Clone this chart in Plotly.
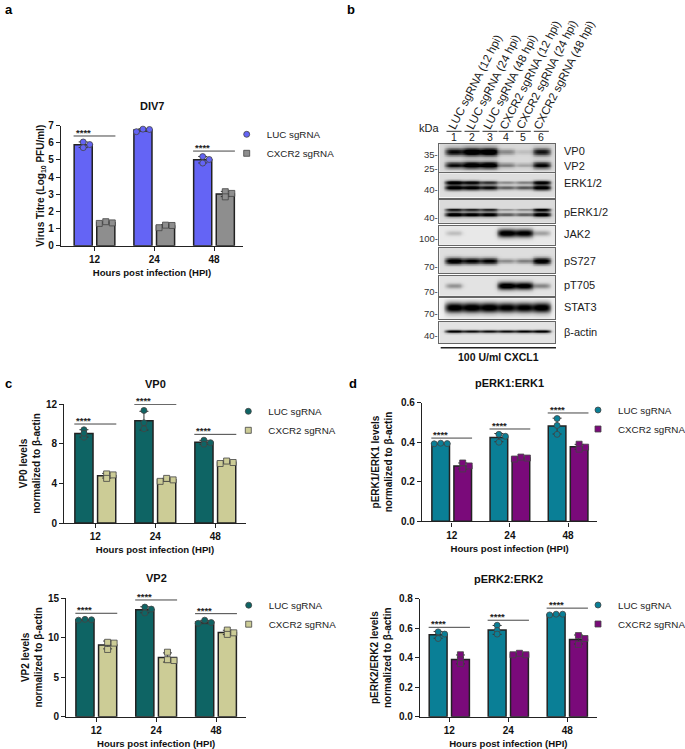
import numpy as np
import plotly.graph_objects as go

W, H = 685, 749
HOURS = ["12", "24", "48"]
LUC = "LUC sgRNA"
CXCR2 = "CXCR2 sgRNA"

# replicate values, one row per time point
DIV7_LUC = [[6.05, 5.72, 5.9], [6.8, 6.78, 6.65], [5.2, 5.03, 4.82]]
DIV7_CXCR2 = [[1.4, 1.33, 1.3], [1.2, 1.18, 1.05], [3.15, 3.05, 2.85]]
VP0_LUC = [[9.4, 8.65, 9.05], [11.35, 10.1, 9.5], [8.35, 8.1, 7.95]]
VP0_CXCR2 = [[4.95, 4.85, 4.5], [4.5, 4.35, 4.2], [6.25, 6.1, 6.0]]
VP2_LUC = [[12.3, 12.25, 12.2], [13.85, 13.6, 13.1], [12.2, 11.9, 11.8]]
VP2_CXCR2 = [[9.4, 9.3, 8.5], [8.15, 7.2, 7.1], [10.95, 10.6, 10.4]]
PERK1_LUC = [[0.395, 0.393, 0.392], [0.44, 0.43, 0.40], [0.52, 0.485, 0.44]]
PERK1_CXCR2 = [[0.295, 0.28, 0.265], [0.325, 0.32, 0.315], [0.39, 0.375, 0.365]]
PERK2_LUC = [[0.575, 0.56, 0.53], [0.62, 0.585, 0.56], [0.695, 0.695, 0.69]]
PERK2_CXCR2 = [[0.42, 0.385, 0.36], [0.43, 0.42, 0.42], [0.55, 0.53, 0.49]]

# significance bar heights
DIV7_SIG = [6.4, 7.16, 5.52]
VP0_SIG = [9.98, 11.97, 8.94]
VP2_SIG = [13.07, 14.75, 13.02]
PERK1_SIG = [0.421, 0.467, 0.548]
PERK2_SIG = [0.606, 0.654, 0.736]

# blot lane intensities
LANE_LABELS = ["LUC sgRNA (12 hpi)", "LUC sgRNA (24 hpi)", "LUC sgRNA (48 hpi)",
               "CXCR2 sgRNA (12 hpi)", "CXCR2 sgRNA (24 hpi)", "CXCR2 sgRNA (48 hpi)"]
B_VP0 = [0.8, 1, 1, 0.3, 0.1, 0.75]
B_VP2 = [0.8, 1, 1, 0.35, 0.2, 0.85]
B_ERK_UP = [1, 0.9, 0.7, 0.35, 0.4, 0.95]
B_ERK_LOW = [1, 0.95, 0.85, 0.5, 0.55, 1]
B_PERK_UP = [0.8, 0.75, 0.75, 0.3, 0.35, 0.9]
B_PERK_LOW = [0.95, 0.9, 0.9, 0.5, 0.5, 0.95]
B_JAK2 = [0.16, 0, 0, 1, 0.95, 0.27]
B_PS727 = [0.95, 0.85, 0.85, 0.3, 0.35, 0.95]
B_PT705 = [0.3, 0, 0, 1, 0.95, 0.35]
B_STAT3 = [1, 1, 1, 0.95, 0.95, 1]
B_ACTIN = [0.9, 0.8, 0.8, 0.8, 0.85, 0.9]

FONT = "Liberation Sans"
DARK = "#222222"
SLOT = 0.189
MARKER = 6


def xdom(a, b):
    return [a / W, b / W]


def ydom(bottom, top):
    return [1 - bottom / H, 1 - top / H]


PANELS = [
    dict(title="DIV7", ytitle="Virus Titre (Log<sub>10</sub> PFU/ml)", luc=DIV7_LUC, cx=DIV7_CXCR2, sig=DIV7_SIG,
         colors=("#6464f5", "#8e8e8e"), ymax=7, dtick=1, fmt="d", box=(61, 243, 245.7, 125.7), tick1=94.5, pitch=59.75,
         title_y=105.7, leg=(266.7, 143.3), standoff=1),
    dict(title="VP0", ytitle="VP0 levels<br>normalized to β-actin", luc=VP0_LUC, cx=VP0_CXCR2, sig=VP0_SIG,
         colors=("#0e6464", "#cccc96"), ymax=12, dtick=4, fmt="d", box=(64.3, 245.7, 523, 404), tick1=95.3, pitch=60,
         title_y=384.3, leg=(268.3, 420.3), standoff=3),
    dict(title="VP2", ytitle="VP2 levels<br>normalized to β-actin", luc=VP2_LUC, cx=VP2_CXCR2, sig=VP2_SIG,
         colors=("#0e6464", "#cccc96"), ymax=15, dtick=5, fmt="d", box=(66.3, 246, 716.7, 598), tick1=96.3, pitch=59.85,
         title_y=578.3, leg=(268.7, 614.2), standoff=3),
    dict(title="pERK1:ERK1", ytitle="pERK1/ERK1 levels<br>normalized to β-actin", luc=PERK1_LUC, cx=PERK1_CXCR2, sig=PERK1_SIG,
         colors=("#0a7f96", "#7a0a7a"), ymax=0.6, dtick=0.2, fmt=".1f", box=(422, 597.3, 521.3, 402.7), tick1=451.7, pitch=58.2,
         title_y=383.3, leg=(618, 419), standoff=6),
    dict(title="pERK2:ERK2", ytitle="pERK2/ERK2 levels<br>normalized to β-actin", luc=PERK2_LUC, cx=PERK2_CXCR2, sig=PERK2_SIG,
         colors=("#0a7f96", "#7a0a7a"), ymax=0.8, dtick=0.2, fmt=".1f", box=(420, 596.7, 716.7, 598.7), tick1=449.3, pitch=59,
         title_y=579, leg=(618, 614), standoff=5),
]


def swarm(values, px_per_unit, pitch):
    """Spread points sideways when they would overlap, in the order given."""
    step = 6.5 / pitch
    placed, out = [], []
    for v in values:
        for off in (0, step, -step):
            if all(abs(v - pv) * px_per_unit > 3.2 or po != off for pv, po in placed):
                break
        placed.append((v, off))
        out.append(off)
    return np.array(out)


fig = go.Figure()
layout = {}
annotations = []


def text(x, y, s, size=10.5, bold=False, anchor="center", color="#1a1a1a", angle=0, valign="middle"):
    annotations.append(dict(x=x / W, y=1 - y / H, xref="paper", yref="paper", text=s, showarrow=False,
                            xanchor=anchor, yanchor=valign, textangle=angle,
                            font=dict(family=FONT, size=size, color=color, weight="bold" if bold else "normal")))


for n, p in enumerate(PANELS, start=1):
    x0, x1, yb, yt = p["box"]
    xname, yname = f"x{n}", f"y{n}"
    layout[f"xaxis{n}"] = dict(domain=xdom(x0, x1), range=[(x0 - p["tick1"]) / p["pitch"], (x1 - p["tick1"]) / p["pitch"]],
                               anchor=yname, tickvals=[0, 1, 2], ticktext=HOURS, ticks="outside", ticklen=4, tickwidth=1.3,
                               tickcolor=DARK, showline=True, linecolor=DARK, linewidth=1.4, showgrid=False, zeroline=False,
                               tickfont=dict(family=FONT, size=10, color="#111", weight="bold"),
                               title=dict(text="Hours post infection (HPI)", standoff=5,
                                          font=dict(family=FONT, size=9.6, color="#111", weight="bold")))
    layout[f"yaxis{n}"] = dict(domain=ydom(yb, yt), range=[0, p["ymax"]], anchor=xname, dtick=p["dtick"],
                               tickformat=p["fmt"], ticks="outside", ticklen=4, tickwidth=1.3, tickcolor=DARK,
                               showline=True, linecolor=DARK, linewidth=1.4, showgrid=False, zeroline=False,
                               tickfont=dict(family=FONT, size=10, color="#111", weight="bold"),
                               title=dict(text=p["ytitle"], standoff=p["standoff"],
                                          font=dict(family=FONT, size=10, color="#111", weight="bold")))
    legname = "legend" if n == 1 else f"legend{n}"
    layout[legname] = dict(x=(p["leg"][0] - 40) / W, y=1 - (p["leg"][1] - 23.5) / H, xanchor="left", yanchor="top",
                           bgcolor="rgba(0,0,0,0)", font=dict(family=FONT, size=9.8, color="#222"),
                           entrywidth=62, entrywidthmode="pixels",
                           itemclick=False, itemdoubleclick=False)
    px_per = (yb - yt) / p["ymax"]
    for vals, name, color, sym, side in ((p["luc"], LUC, p["colors"][0], "circle", -1),
                                         (p["cx"], CXCR2, p["colors"][1], "square", 1)):
        arr = np.array(vals)
        fig.add_trace(go.Bar(x=[0, 1, 2], y=arr.mean(axis=1), xaxis=xname, yaxis=yname, name=name, showlegend=False,
                             marker=dict(color=color, line=dict(color=DARK, width=1.5)),
                             error_y=dict(type="data", array=arr.std(axis=1, ddof=1), color="#333", thickness=1, width=4.5)))
        xs, ys = [], []
        for i, row in enumerate(vals):
            xs.extend(i + side * SLOT + swarm(row, px_per, p["pitch"]))
            ys.extend(row)
        fig.add_trace(go.Scatter(x=xs, y=ys, xaxis=xname, yaxis=yname, mode="markers", name=name, legend=legname,
                                 cliponaxis=False,
                                 marker=dict(symbol=sym, size=MARKER, color=color, line=dict(color="#444", width=0.8))))
    for i, lvl in enumerate(p["sig"]):
        fig.add_trace(go.Scatter(x=[i - 0.35, i + 0.35], y=[lvl, lvl], xaxis=xname, yaxis=yname, mode="lines",
                                 cliponaxis=False, showlegend=False, hoverinfo="skip",
                                 line=dict(color="#444", width=1)))
        annotations.append(dict(x=i - 0.35, y=lvl, xref=xname, yref=yname, text="****", showarrow=False,
                                xanchor="left", yanchor="bottom", yshift=-4, xshift=0,
                                font=dict(family=FONT, size=9.5, color="#222", weight="bold")))
    text((x0 + x1) / 2, p["title_y"], p["title"], size=11, bold=True, color="#111")

# --- western blots ---
LANE_RANGE = [0.158, 6.8]
BLOTS = [
    dict(box=(439.3, 555.3, 171.7, 144), bg=0.15, bands=[(B_VP0, 0.28, 0.15), (B_VP2, 0.76, 0.12)]),
    dict(box=(439.3, 555.3, 197.7, 173.3), bg=0.13, bands=[(B_ERK_UP, 0.37, 0.08), (B_ERK_LOW, 0.58, 0.1)]),
    dict(box=(439.3, 555.3, 222.7, 200), bg=0.14, bands=[(B_PERK_UP, 0.43, 0.07), (B_PERK_LOW, 0.64, 0.1)]),
    dict(box=(439.3, 555.3, 245, 225.7), bg=0.09, bands=[(B_JAK2, 0.39, 0.2)]),
    dict(box=(439.3, 555.3, 273.3, 248), bg=0.13, bands=[(B_PS727, 0.51, 0.13)]),
    dict(box=(439.3, 555.3, 295.7, 276), bg=0.11, bands=[(B_PT705, 0.49, 0.19)]),
    dict(box=(439.3, 555.3, 319, 298.3), bg=0.06, bands=[(B_STAT3, 0.45, 0.24)]),
    dict(box=(439.3, 555.3, 343.3, 322), bg=0.11, bands=[(B_ACTIN, 0.44, 0.08)]),
]
gx = np.linspace(LANE_RANGE[0], LANE_RANGE[1], 130)
gy = np.linspace(0, 1, 40)
X, Y = np.meshgrid(gx, gy)
for k, b in enumerate(BLOTS):
    n = len(PANELS) + 1 + k
    x0, x1, yb, yt = b["box"]
    z = np.full(X.shape, b["bg"], dtype=float)
    for lanes, yc, wy in b["bands"]:
        for lane, strength in enumerate(lanes, start=1):
            sx = 0.46 + 0.06 * strength
            hgt = wy * (0.55 + 0.5 * strength)
            z += 1.05 * strength * np.exp(-((X - lane) / sx) ** 4) * np.exp(-((Y - yc) / hgt) ** 2)
    fig.add_trace(go.Heatmap(x=gx, y=gy, z=np.clip(z, 0, 1), xaxis=f"x{n}", yaxis=f"y{n}", zmin=0, zmax=1, zsmooth="best",
                             colorscale=[[0, "#ffffff"], [1, "#000000"]], showscale=False, hoverinfo="skip"))
    frame = dict(showline=True, mirror=True, linecolor="#666", linewidth=1.1, showticklabels=False, ticks="",
                 showgrid=False, zeroline=False)
    layout[f"xaxis{n}"] = dict(domain=xdom(x0, x1), range=LANE_RANGE, anchor=f"y{n}", **frame)
    layout[f"yaxis{n}"] = dict(domain=ydom(yb, yt), range=[1, 0], anchor=f"x{n}", **frame)

LANE_PX = [454, 472, 490, 506, 523.3, 541.3]
for s, cx, cy in zip(LANE_LABELS, [475, 493, 510, 530, 546.5, 564], [82, 82, 82, 75, 75, 75]):
    text(cx, cy, s, size=11.5, angle=-63)
lane_lines = []
for i, px in enumerate(LANE_PX, start=1):
    text(px, 137.3, str(i), size=10.5)
    lane_lines.append(dict(type="line", xref="paper", yref="paper", x0=(px - 7.5) / W, x1=(px + 7.5) / W,
                           y0=1 - 131.3 / H, y1=1 - 131.3 / H, line=dict(color="#333", width=1)))
lane_lines.append(dict(type="line", xref="paper", yref="paper", x0=440.7 / W, x1=556 / W,
                       y0=1 - 347.7 / H, y1=1 - 347.7 / H, line=dict(color="#222", width=1.5)))
text(429.3, 128, "kDa", size=11)
for s, y in (("35-", 154), ("25-", 168), ("40-", 189.3), ("40-", 217.7), ("100-", 238.3), ("70-", 266.7),
             ("70-", 291.3), ("70-", 313.3), ("40-", 335.7)):
    text(439.5, y, s, size=9.5, anchor="right", color="#333")
for s, y in (("VP0", 151), ("VP2", 165.7), ("ERK1/2", 183.3), ("pERK1/2", 211.7), ("JAK2", 234.3), ("pS727", 261),
             ("pT705", 285.3), ("STAT3", 307.3), ("β-actin", 332.3)):
    text(561.5, y, s, size=11, anchor="left")
text(498, 356.7, "100 U/ml CXCL1", size=10.5, bold=True, color="#111")

for s, x, y in (("a", 3, 0), ("b", 345, 0), ("c", 3, 374), ("d", 347, 374)):
    text(x, y, s, size=13, bold=True, anchor="left", color="#000", valign="top")

fig.update_layout(width=W, height=H, margin=dict(l=0, r=0, t=0, b=0, autoexpand=False), autosize=False, paper_bgcolor="white",
                  plot_bgcolor="white", barmode="group", bargap=0.243, bargroupgap=0.2,
                  annotations=annotations, shapes=lane_lines, **layout)
fig.write_html("out.html", config={"displayModeBar": False}, post_script="document.body.style.margin='0';")
